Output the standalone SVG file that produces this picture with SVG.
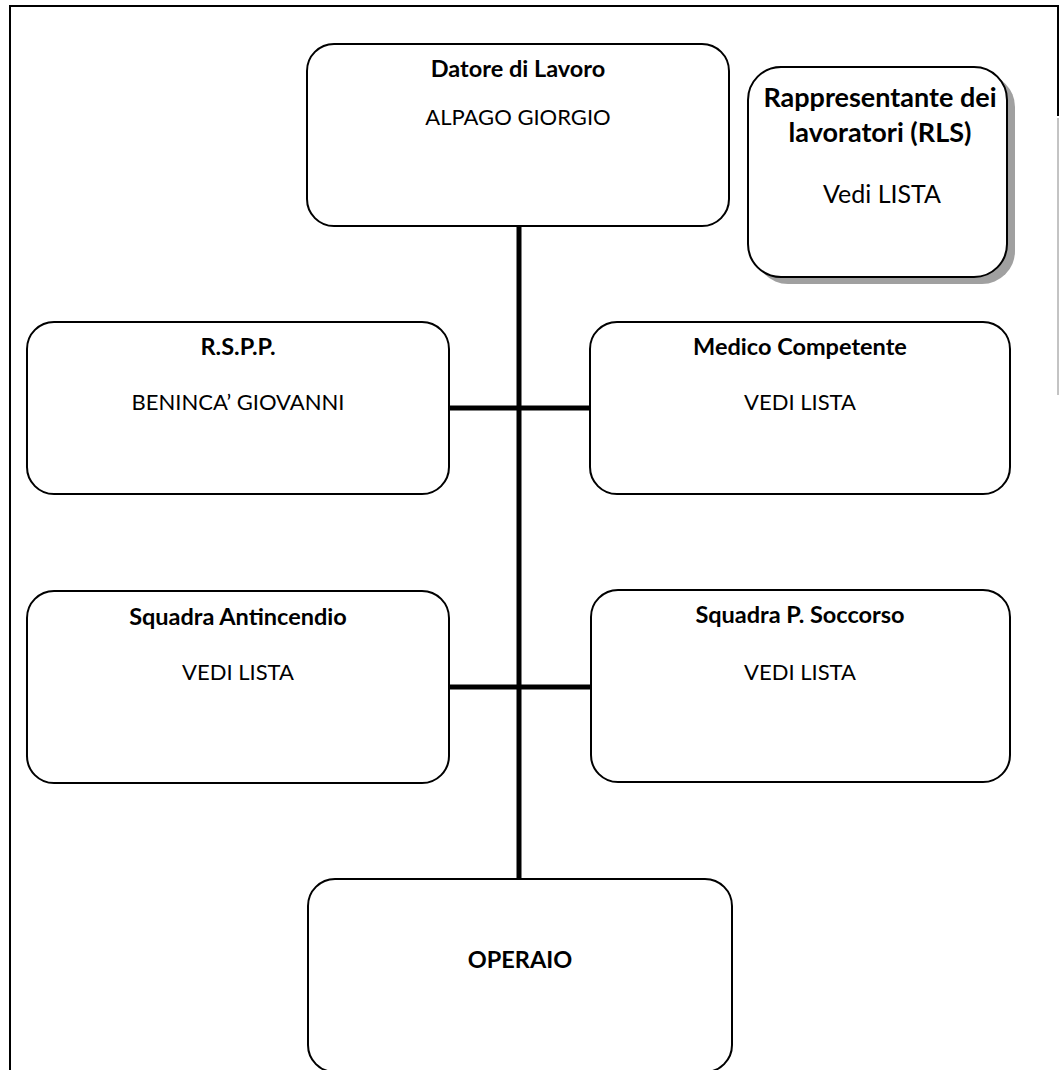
<svg xmlns="http://www.w3.org/2000/svg" width="1060" height="1070" viewBox="0 0 1060 1070">
<style>
.box{fill:#fff;stroke:#000;stroke-width:2}
.t{font-family:Lato,"Liberation Sans",sans-serif;font-size:22px;text-anchor:middle;fill:#000}
.b{font-weight:bold;font-size:23.5px}
.con{stroke:#000;stroke-width:5;fill:none}
</style>
<rect width="1060" height="1070" fill="#fff"/>
<g id="frame" fill="none" stroke="#000">
<path d="M10,1070 V6 H1058 V116" stroke-width="2"/>
<path d="M1058,118 V395" stroke="#888" stroke-width="1"/>
</g>
<g id="connectors">
<line class="con" x1="519" y1="226" x2="519" y2="880"/>
<line class="con" x1="449" y1="408" x2="590" y2="408"/>
<line class="con" x1="449" y1="687" x2="591" y2="687"/>
</g>
<g id="datore">
<rect class="box" x="307" y="44" width="422" height="182" rx="27"/>
<text class="t b" x="518" y="77">Datore di Lavoro</text>
<text class="t" x="518" y="125">ALPAGO GIORGIO</text>
</g>
<g id="rls">
<rect x="755" y="74" width="260" height="210" rx="33" fill="#a0a0a0"/>
<rect class="box" x="748" y="67" width="259" height="210" rx="33" stroke-width="1.5"/>
<text class="t b" x="880" y="107" style="font-size:27px">Rappresentante dei</text>
<text class="t b" x="880" y="142" style="font-size:27px">lavoratori (RLS)</text>
<text class="t" x="882" y="203" style="font-size:25px">Vedi LISTA</text>
</g>
<g id="rspp">
<rect class="box" x="27" y="322" width="422" height="172" rx="27"/>
<text class="t b" x="238" y="355">R.S.P.P.</text>
<text class="t" x="238" y="410">BENINCA’ GIOVANNI</text>
</g>
<g id="medico">
<rect class="box" x="590" y="322" width="420" height="172" rx="27"/>
<text class="t b" x="800" y="355">Medico Competente</text>
<text class="t" x="800" y="410">VEDI LISTA</text>
</g>
<g id="antincendio">
<rect class="box" x="27" y="591" width="422" height="192" rx="27"/>
<text class="t b" x="238" y="625">Squadra Antincendio</text>
<text class="t" x="238" y="680">VEDI LISTA</text>
</g>
<g id="soccorso">
<rect class="box" x="591" y="590" width="419" height="192" rx="27"/>
<text class="t b" x="800" y="623">Squadra P. Soccorso</text>
<text class="t" x="800" y="680">VEDI LISTA</text>
</g>
<g id="operaio">
<rect class="box" x="308" y="879" width="424" height="193" rx="27"/>
<text class="t b" x="520" y="968">OPERAIO</text>
</g>
</svg>
